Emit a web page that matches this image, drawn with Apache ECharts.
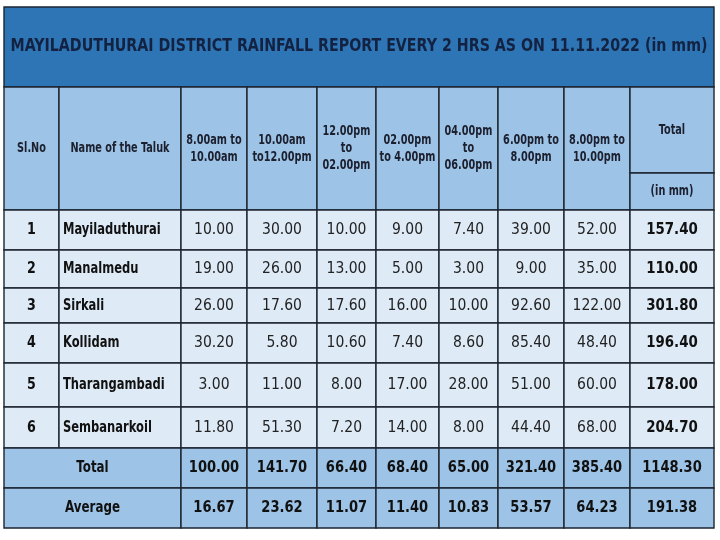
<!DOCTYPE html>
<html><head><meta charset="utf-8">
<script src="https://cdn.jsdelivr.net/npm/echarts@6/dist/echarts.min.js"></script>
<style>html,body{margin:0;padding:0;background:#fff}#c{width:720px;height:540px}</style>
</head><body><div id="c"></div>
<script>
// ---- data ----
var title = 'MAYILADUTHURAI DISTRICT RAINFALL REPORT EVERY 2 HRS AS ON 11.11.2022 (in mm)';
var headSlNo = 'Sl.No';
var headName = 'Name of the Taluk';
var timeSlots = ['8.00am to\n10.00am', '10.00am\nto12.00pm', '12.00pm\nto\n02.00pm', '02.00pm\nto 4.00pm', '04.00pm\nto\n06.00pm', '6.00pm to\n8.00pm', '8.00pm to\n10.00pm'];
var headTotal = 'Total';
var headUnit = '(in mm)';
var serialNos = [1, 2, 3, 4, 5, 6];
var taluks = ['Mayiladuthurai', 'Manalmedu', 'Sirkali', 'Kollidam', 'Tharangambadi', 'Sembanarkoil'];
var mayiladuthurai = [10.00, 30.00, 10.00, 9.00, 7.40, 39.00, 52.00];
var manalmedu      = [19.00, 26.00, 13.00, 5.00, 3.00, 9.00, 35.00];
var sirkali        = [26.00, 17.60, 17.60, 16.00, 10.00, 92.60, 122.00];
var kollidam       = [30.20, 5.80, 10.60, 7.40, 8.60, 85.40, 48.40];
var tharangambadi  = [3.00, 11.00, 8.00, 17.00, 28.00, 51.00, 60.00];
var sembanarkoil   = [11.80, 51.30, 7.20, 14.00, 8.00, 44.40, 68.00];
var talukTotals    = [157.40, 110.00, 301.80, 196.40, 178.00, 204.70];
var slotTotals     = [100.00, 141.70, 66.40, 68.40, 65.00, 321.40, 385.40];
var grandTotal     = 1148.30;
var slotAverages   = [16.67, 23.62, 11.07, 11.40, 10.83, 53.57, 64.23];
var grandAverage   = 191.38;
var totalLabel = 'Total';
var averageLabel = 'Average';

// ---- layout (table geometry in axis units) ----
var colEdges = [4, 59, 181, 247, 317, 376, 439, 498, 564, 630, 714];
var titleTop = 7, headTop = 87, headSplit = 173;
var rowEdges = [210, 250, 288, 323, 363, 407, 448, 488, 528];

var C_TITLE = '#2e75b6', C_HEAD = '#9dc3e6', C_BODY = '#deebf7', C_SUM = '#9dc3e6';
var FONT = '"DejaVu Sans Condensed", "DejaVu Sans", sans-serif';

var cells = [];
function cell(x0, x1, y0, y1, fill, text, o) {
  o = o || {};
  cells.push({value: [x0, y0, x1, y1], fill: fill, text: text, bold: o.bold !== false,
    size: o.size || 16, align: o.align || 'center', color: o.color || '#111',
    lh: o.lh || 15, sx: o.sx || 1, dy: o.dy || 0});
}
function fmt(v) { return v.toFixed(2); }

var HEAD = {size: 13.5, color: '#1b1f2e', sx: 0.8, lh: 17};
function hs(extra) { var o = {}; for (var k in HEAD) o[k] = HEAD[k]; for (var k2 in extra) o[k2] = extra[k2]; return o; }

cell(colEdges[0], colEdges[10], titleTop, headTop, C_TITLE, title, {size: 17, color: '#132240', sx: 0.93});
cell(colEdges[0], colEdges[1], headTop, rowEdges[0], C_HEAD, headSlNo, hs());
cell(colEdges[1], colEdges[2], headTop, rowEdges[0], C_HEAD, headName, hs());
timeSlots.forEach(function (t, i) {
  cell(colEdges[2 + i], colEdges[3 + i], headTop, rowEdges[0], C_HEAD, t, hs());
});
cell(colEdges[9], colEdges[10], headTop, headSplit, C_HEAD, headTotal, hs());
cell(colEdges[9], colEdges[10], headSplit, rowEdges[0], C_HEAD, headUnit, hs());

var rows = [mayiladuthurai, manalmedu, sirkali, kollidam, tharangambadi, sembanarkoil];
rows.forEach(function (vals, r) {
  var y0 = rowEdges[r], y1 = rowEdges[r + 1];
  cell(colEdges[0], colEdges[1], y0, y1, C_BODY, String(serialNos[r]), {size: 16, sx: 0.88});
  cell(colEdges[1], colEdges[2], y0, y1, C_BODY, taluks[r], {size: 16, align: 'left', sx: 0.8});
  vals.forEach(function (v, i) {
    cell(colEdges[2 + i], colEdges[3 + i], y0, y1, C_BODY, fmt(v), {bold: false, size: 15.5, color: '#222'});
  });
  cell(colEdges[9], colEdges[10], y0, y1, C_BODY, fmt(talukTotals[r]), {size: 16.5, sx: 0.9});
});
[[totalLabel, slotTotals, grandTotal], [averageLabel, slotAverages, grandAverage]].forEach(function (s, k) {
  var y0 = rowEdges[6 + k], y1 = rowEdges[7 + k];
  cell(colEdges[0], colEdges[2], y0, y1, C_SUM, s[0], {size: 16.5, sx: 0.8});
  s[1].forEach(function (v, i) {
    cell(colEdges[2 + i], colEdges[3 + i], y0, y1, C_SUM, fmt(v), {size: 16.5, sx: 0.88});
  });
  cell(colEdges[9], colEdges[10], y0, y1, C_SUM, fmt(s[2]), {size: 16.5, sx: 0.88});
});

var chart = echarts.init(document.getElementById('c'), null, {renderer: 'canvas'});
chart.setOption({
  animation: false,
  grid: {left: 0, right: 0, top: 0, bottom: 0},
  xAxis: {type: 'value', min: 0, max: 720, show: false},
  yAxis: {type: 'value', min: 0, max: 540, inverse: true, show: false},
  series: [{
    type: 'custom',
    silent: true,
    data: cells.map(function (c) { return c.value; }),
    renderItem: function (params, api) {
      var c = cells[params.dataIndex];
      var p0 = api.coord([api.value(0), api.value(1)]);
      var p1 = api.coord([api.value(2), api.value(3)]);
      var x = Math.min(p0[0], p1[0]), y = Math.min(p0[1], p1[1]);
      var w = Math.abs(p1[0] - p0[0]), h = Math.abs(p1[1] - p0[1]);
      var tx = c.align === 'left' ? x + 4 : x + w / 2;
      return {
        type: 'group',
        children: [
          {type: 'rect', shape: {x: x, y: y, width: w, height: h},
           style: {fill: c.fill, stroke: '#1c2530', lineWidth: 1.4}},
          {type: 'text', x: tx, y: y + h / 2 + c.dy, scaleX: c.sx,
           style: {x: 0, y: 0, text: c.text, fill: c.color,
            font: (c.bold ? 'bold ' : '') + c.size + 'px ' + FONT,
            align: c.align, verticalAlign: 'middle', lineHeight: c.lh}}
        ]
      };
    }
  }]
});
</script>
</body></html>
